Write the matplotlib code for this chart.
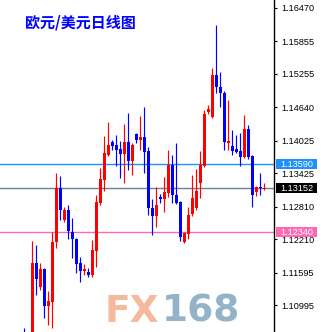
import matplotlib
matplotlib.use('Agg')
import matplotlib.pyplot as plt
import matplotlib.transforms as mtrans
from matplotlib.patches import Rectangle

# ---- data (EUR/USD daily candles) ----
opens = [1.10485, 1.10430, 1.10264, 1.11774, 1.11332, 1.11663, 1.10982, 1.11056, 1.12161, 1.13155,
         1.12566, 1.12750, 1.12345, 1.12216, 1.11774, 1.11627, 1.11608, 1.11553, 1.11995, 1.12879,
         1.13302, 1.13763, 1.14002, 1.13947, 1.13873, 1.13781, 1.14002, 1.13652, 1.14150, 1.14039,
         1.14094, 1.13837, 1.12787, 1.12640, 1.12989, 1.12953, 1.13063, 1.13579, 1.13026, 1.12897,
         1.12161, 1.12308, 1.12676, 1.12787, 1.13247, 1.13560, 1.14555, 1.14463, 1.15236, 1.15015,
         1.14905, 1.13984, 1.13929, 1.13873, 1.13837, 1.13726, 1.14242, 1.13744, 1.13081, 1.13174,
         1.13140]
highs = [1.10577, 1.10466, 1.12179, 1.12105, 1.11774, 1.11682, 1.11258, 1.12345, 1.13431, 1.13376,
         1.12805, 1.12842, 1.12603, 1.12235, 1.11884, 1.11756, 1.11682, 1.12198, 1.13026, 1.13523,
         1.14113, 1.14371, 1.14039, 1.14131, 1.14021, 1.14334, 1.14536, 1.13984, 1.14168, 1.14481,
         1.14647, 1.13910, 1.12953, 1.13174, 1.13045, 1.13358, 1.13855, 1.13763, 1.13984, 1.12915,
         1.12345, 1.12805, 1.13395, 1.13505, 1.13837, 1.14592, 1.14684, 1.15365, 1.16157, 1.15291,
         1.14941, 1.14776, 1.14223, 1.14131, 1.14168, 1.14500, 1.14315, 1.13763, 1.13192, 1.13431,
         1.13247]
lows = [1.10172, 1.10080, 1.10172, 1.11185, 1.11277, 1.10761, 1.10632, 1.10577, 1.12050, 1.12566,
        1.12529, 1.12216, 1.11866, 1.11590, 1.11424, 1.11553, 1.11516, 1.11516, 1.11700, 1.12842,
        1.13100, 1.13744, 1.13855, 1.13560, 1.13339, 1.13247, 1.13487, 1.13395, 1.13984, 1.13855,
        1.13431, 1.12658, 1.12290, 1.12437, 1.12879, 1.12713, 1.12989, 1.12879, 1.12860, 1.12179,
        1.12142, 1.12216, 1.12640, 1.12750, 1.12971, 1.13542, 1.14518, 1.14445, 1.14905, 1.14647,
        1.13855, 1.13855, 1.13763, 1.13800, 1.13560, 1.13708, 1.13689, 1.12805, 1.13008, 1.13026,
        1.13118]
closes = [1.10264, 1.10172, 1.11774, 1.11479, 1.11663, 1.10982, 1.11074, 1.12161, 1.13155, 1.12750,
          1.12750, 1.12363, 1.12216, 1.11756, 1.11627, 1.11663, 1.11553, 1.12013, 1.12897, 1.13321,
          1.13800, 1.13947, 1.13929, 1.13855, 1.13781, 1.14002, 1.13652, 1.13947, 1.14039, 1.14094,
          1.13818, 1.12787, 1.12640, 1.12842, 1.12953, 1.13081, 1.13579, 1.13026, 1.12879, 1.12253,
          1.12326, 1.12658, 1.12971, 1.13100, 1.13579, 1.14518, 1.14610, 1.15236, 1.15015, 1.14905,
          1.14002, 1.14021, 1.13837, 1.13818, 1.13726, 1.14242, 1.13726, 1.13026, 1.13174, 1.13155,
          1.13152]

tick_values = [1.16470, 1.15855, 1.15255, 1.14640, 1.14025, 1.13425, 1.12810, 1.12210, 1.11595, 1.10995]
tick_labels = ["1.16470", "1.15855", "1.15255", "1.14640", "1.14025", "1.13425", "1.12810",
               "1.12210", "1.11595", "1.10995"]

level_values = [1.13590, 1.13152, 1.12340]
level_labels = ["1.13590", "1.13152", "1.12340"]
level_line_colors = ["#1e90ff", "#708090", "#ff69b4"]
level_box_colors = ["#1e90ff", "#000000", "#ff69b4"]

title = "欧元/美元日线图"

# ---- figure ----
W, H = 321, 332
fig = plt.figure(figsize=(W / 100, H / 100), dpi=100)
fig.patch.set_facecolor('white')
ax = fig.add_axes([0, 0, 274 / W, 1])
ax.set_facecolor('white')

n = len(opens)
xs = list(range(n))
up_col, dn_col = '#ff0000', '#0000ff'
cols = [up_col if c >= o else dn_col for o, c in zip(opens, closes)]

ax.vlines(xs, lows, highs, colors=cols, linewidth=0.85, zorder=2)
bottoms = [min(o, c) for o, c in zip(opens, closes)]
heights = [max(abs(c - o), 0.00019) for o, c in zip(opens, closes)]
ax.bar(xs, heights, bottom=bottoms, width=0.75, color=cols, linewidth=0, zorder=3)

ax.set_xlim(-6.075, 62.425)
ax.set_ylim(1.10503, 1.16617)

for v, lc in zip(level_values, level_line_colors):
    ax.axhline(v, color=lc, linewidth=1.0, zorder=1)

# axes styling
for s in ['left', 'top', 'bottom']:
    ax.spines[s].set_visible(False)
ax.spines['right'].set_color('black')
ax.spines['right'].set_linewidth(1.0)
ax.set_xticks([])
ax.yaxis.tick_right()
ax.set_yticks(tick_values)
ax.set_yticklabels(tick_labels, family='Liberation Sans', fontsize=6.6, color='black')
ax.tick_params(axis='y', direction='out', length=2.5, width=0.8, pad=2.6, colors='black')

# level label boxes
tr = mtrans.blended_transform_factory(fig.transFigure, ax.transData)
box_h = 10 / 5430
for v, lab, bc in zip(level_values, level_labels, level_box_colors):
    ax.add_patch(Rectangle((276 / W, v - box_h / 2), 41 / W, box_h, transform=tr,
                           facecolor=bc, edgecolor='none', clip_on=False, zorder=5))
    ax.text(296.5 / W, v, lab, transform=tr, ha='center', va='center', color='white',
            family='Liberation Sans', fontsize=6.6, clip_on=False, zorder=6)

# title
fig.text(25 / W, 1 - 22.5 / H, title, ha='left', va='center', color='#0000ff',
         fontsize=10.8, fontweight='bold', family=['Noto Sans CJK SC', 'DejaVu Sans'])

# watermark
fig.text(104 / W, 1 - 322 / H, "FX", ha='left', va='baseline', color='#f5b99c',
         fontsize=27, fontweight='bold', family='DejaVu Sans', zorder=0)
fig.text(162 / W, 1 - 322 / H, "168", ha='left', va='baseline', color='#93b3c8',
         fontsize=27, fontweight='bold', family='DejaVu Sans', zorder=0)

fig.savefig('out.png', dpi=100, facecolor='white')
